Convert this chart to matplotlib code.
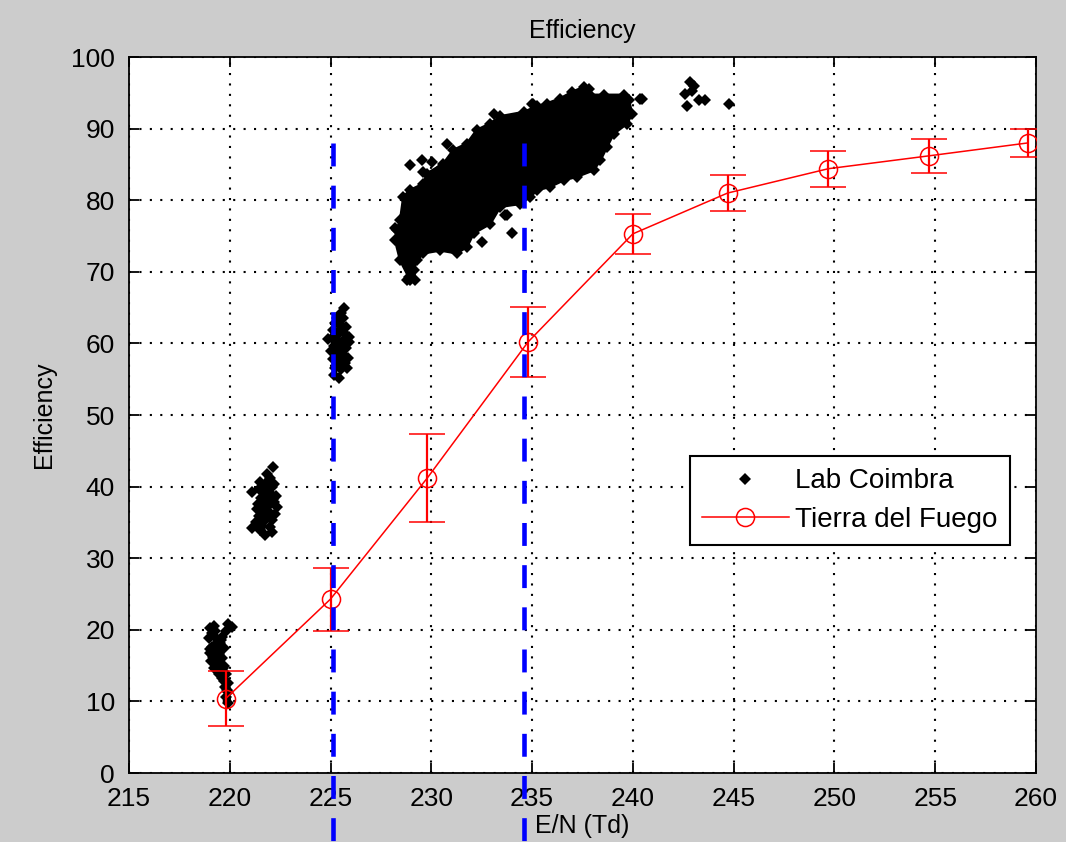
import numpy as np
import matplotlib
matplotlib.use("Agg")
import matplotlib.pyplot as plt
from matplotlib.lines import Line2D

# Tierra del Fuego efficiency curve with error bars
tdf_en = [219.8, 225.0, 229.8, 234.8, 240.0, 244.7, 249.7, 254.7, 259.6]
tdf_eff = [10.4, 24.3, 41.2, 60.2, 75.3, 81.0, 84.4, 86.2, 88.0]
tdf_err = [3.9, 4.4, 6.2, 4.9, 2.8, 2.5, 2.5, 2.4, 1.9]

# Lab Coimbra measurements, small groups at low E/N
lab_en_220 = [219.0, 219.2, 219.9, 220.1, 219.8, 219.1, 218.95, 219.3, 219.5, 219.1,
              219.4, 219.7, 219.0, 219.3, 219.6, 219.05, 219.4, 219.7, 219.2, 219.5,
              219.8, 219.6, 219.9, 219.75, 219.9, 219.8, 219.9, 219.3, 219.6, 219.45,
              219.25, 219.55, 219.15, 219.35, 219.65, 219.45, 219.7, 219.85, 219.0, 219.55]
lab_eff_220 = [20.3, 20.6, 20.8, 20.4, 19.8, 19.5, 18.8, 18.9, 18.2, 17.6,
               17.2, 17.5, 16.8, 16.3, 16.0, 15.6, 15.2, 15.0, 14.6, 14.3,
               13.9, 13.3, 12.6, 12.0, 11.3, 10.6, 9.8, 18.0, 19.0, 16.6,
               19.9, 17.8, 16.2, 15.8, 14.7, 13.8, 12.9, 11.6, 17.3, 18.6]
lab_en_222 = [222.15, 221.85, 222.0, 221.5, 221.8, 222.2, 221.1, 221.45, 221.7, 222.05,
              222.3, 221.55, 221.9, 222.2, 221.4, 221.7, 222.35, 221.6, 221.95, 222.25,
              221.45, 221.8, 222.1, 221.3, 221.1, 221.6, 222.0, 221.75, 222.1, 221.9, 221.65,
              221.65, 222.1, 221.85, 221.55, 222.15, 221.75, 221.35, 222.0, 221.5]
lab_eff_222 = [42.8, 41.8, 41.2, 40.7, 40.5, 40.3, 39.3, 39.6, 39.2, 39.0,
               38.7, 38.4, 38.2, 37.8, 37.6, 37.3, 37.2, 36.6, 36.5, 36.2,
               35.9, 35.6, 35.3, 35.1, 34.2, 34.5, 34.3, 33.3, 33.6, 38.9, 35.0,
               40.1, 39.9, 39.7, 37.0, 38.3, 36.0, 36.9, 37.6, 34.0]
lab_en_225 = [225.65, 225.5, 225.3, 225.6, 225.2, 225.45, 225.75, 225.1, 225.35, 225.65,
              224.85, 225.05, 225.3, 225.6, 225.9, 225.15, 225.45, 225.75, 225.0, 225.3,
              225.6, 225.85, 225.1, 225.4, 225.7, 225.2, 225.5, 225.8, 225.15, 225.4, 225.9,
              225.4, 225.55, 225.25, 225.5, 225.7, 225.35, 225.55, 225.3, 225.6]
lab_eff_225 = [65.0, 64.3, 63.5, 63.6, 62.8, 62.6, 62.3, 61.9, 61.6, 61.4,
               60.6, 60.8, 60.5, 60.4, 60.2, 59.7, 59.5, 59.3, 58.9, 58.6,
               58.4, 58.0, 57.8, 57.5, 57.2, 56.6, 56.4, 56.5, 55.6, 55.2, 60.9,
               63.0, 62.0, 61.1, 60.0, 59.8, 58.2, 57.9, 57.1, 56.9]

# outline of the dense Lab Coimbra cloud (229-240 Td)
cloud_en = [228.95, 228.46, 228.21, 228.29, 228.46, 228.62, 228.95, 229.61, 229.78, 230.6,
            231.1, 231.77, 232.26, 232.92, 233.42, 234.58, 235.24, 235.74, 236.4, 236.98,
            237.56, 237.89, 238.55, 239.54, 239.79, 239.96, 239.71, 239.05, 238.72, 238.39,
            238.05, 237.23, 236.56, 235.9, 235.24, 234.91, 234.41, 233.42, 232.92, 232.1,
            231.77, 231.27, 230.44, 229.61, 229.28, 229.12, 229.2, 228.79]
cloud_eff = [68.9, 71.6, 74.4, 75.8, 77.2, 80.5, 81.4, 82.3, 83.7, 85.1,
             87.0, 87.9, 89.8, 90.7, 91.7, 92.3, 93.1, 93.5, 94.2, 95.1,
             95.8, 94.7, 94.7, 94.7, 94.0, 92.1, 90.7, 89.3, 87.5, 85.6,
             84.2, 83.3, 82.8, 81.9, 81.4, 80.5, 79.5, 79.1, 76.7, 75.4,
             73.5, 72.6, 73.0, 72.6, 71.6, 70.3, 68.9, 68.9]

# loose points around the cloud and the few at high E/N
loose_en = [228.95, 229.53, 230.03, 229.61, 230.44, 230.78, 228.21, 232.51, 233.67, 234.0,
            228.87, 233.09, 235.07, 237.56, 240.37, 235.0, 237.8, 233.75, 240.46,
            242.86, 242.61, 242.94, 242.69, 243.27, 243.6, 244.76, 243.01]
loose_eff = [84.9, 85.6, 85.4, 84.0, 84.4, 87.9, 76.1, 74.2, 77.9, 75.4,
             69.3, 92.1, 93.5, 95.4, 94.2, 93.5, 95.6, 77.9, 94.2,
             96.5, 94.9, 95.2, 93.1, 94.0, 94.0, 93.5, 95.9]

# field region limits
cut_en = [225.1, 234.6]
cut_top = 88.0
cut_bottom = -15.0

plt.rcParams['font.family'] = ['Liberation Sans', 'DejaVu Sans']
fig = plt.figure(figsize=(10.66, 8.42), dpi=100, facecolor=(0.8, 0.8, 0.8))
ax = fig.add_axes([0.121, 0.0819, 0.8508, 0.8504])
ax.set_facecolor('white')

ax.fill(cloud_en, cloud_eff, color='black', lw=2, zorder=2)
lab_en = lab_en_220 + lab_en_222 + lab_en_225 + cloud_en + loose_en
lab_eff = lab_eff_220 + lab_eff_222 + lab_eff_225 + cloud_eff + loose_eff
ax.plot(lab_en, lab_eff, 'D', color='black', ms=6.3, mew=0, zorder=3)

ax.errorbar(tdf_en, tdf_eff, yerr=tdf_err, color='red', lw=1.1, marker='o', ms=13,
            mfc='none', mec='red', mew=1.1, capsize=13, capthick=1.6, elinewidth=1.6,
            zorder=4)

for x in cut_en:
    ax.plot([x, x], [cut_top, cut_bottom], color=(0, 0, 1), lw=3.3,
            linestyle=(0, (5.0, 4.2)), clip_on=False, zorder=5)

ax.set_xlim(215, 260)
ax.set_ylim(0, 100)
ax.set_xticks(np.arange(215, 261, 5))
ax.set_yticks(np.arange(0, 101, 10))
ax.grid(True, color='black', lw=1.5, linestyle=(0, (1, 4)))
ax.set_axisbelow(True)
ax.tick_params(direction='in', length=7, width=1.3, top=True, right=True,
               labelsize=19)
ax.tick_params(axis='x', pad=10)
ax.tick_params(axis='y', pad=10)
for s in ax.spines.values():
    s.set_linewidth(1.3)

ax.set_title('Efficiency', fontsize=18, pad=14)
ax.set_xlabel('E/N (Td)', fontsize=18, labelpad=2)
ax.set_ylabel('Efficiency', fontsize=18, labelpad=11)

handles = [Line2D([], [], ls='none', marker='D', color='black', ms=6, mew=0),
           Line2D([], [], color='red', lw=1.1, marker='o', ms=13, mfc='none', mew=1.1)]
leg = ax.legend(handles, ['Lab Coimbra', 'Tierra del Fuego'], loc='upper left',
                bbox_to_anchor=(0.6185, 0.443), borderaxespad=0,
                fontsize=20, numpoints=1, handlelength=3.1, handletextpad=0.25,
                borderpad=0.45, labelspacing=0.45, fancybox=False, framealpha=1,
                edgecolor='black')
leg.get_frame().set_linewidth(1.5)

plt.savefig('out.png', dpi=100, facecolor=fig.get_facecolor())
